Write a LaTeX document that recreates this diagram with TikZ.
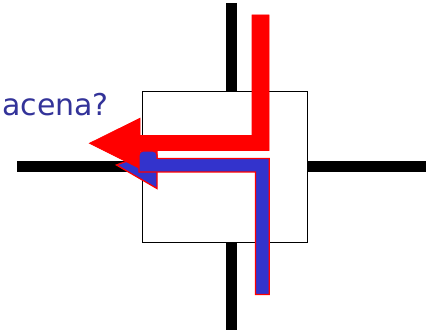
\documentclass[tikz,border=0pt]{standalone}
\usepackage{fontspec}
\setmainfont{DejaVu Sans}
\definecolor{txtblue}{RGB}{51,51,153}
\definecolor{fillblue}{RGB}{51,51,204}
\begin{document}
\begin{tikzpicture}[x=1pt,y=-1pt,
  wire/.style={line width=11pt, black},
  boxstyle/.style={draw=black, line width=1.4pt, fill=white},
  redarrow/.style={fill=red, draw=red, line width=0.8pt, line join=miter},
  bluearrow/.style={fill=fillblue, draw=red, line width=1.3pt, line join=miter},
  label/.style={text=txtblue, font=\fontsize{30}{31}\selectfont, inner sep=0pt}]
\useasboundingbox (0,0) rectangle (426,334);
% wires
\coordinate (wt) at (231,3);
\coordinate (wtb) at (231,91);
\coordinate (wb) at (231,242);
\coordinate (wbb) at (231,330);
\coordinate (wl) at (17,167);
\coordinate (wlb) at (142,167);
\coordinate (wr) at (307,167);
\coordinate (wrb) at (426,167);
\draw[wire] (wt) -- (wtb);
\draw[wire] (wb) -- (wbb);
\draw[wire] (wl) -- (wlb);
\draw[wire] (wr) -- (wrb);
% box
\node[boxstyle, minimum width=165pt, minimum height=151pt, anchor=north west, inner sep=0pt] (box) at (142,91) {};
% blue arrow head (under red)
\fill[bluearrow] (116.5,165) -- (157,150) -- (157,188.5) -- cycle;
% red arrow
\filldraw[redarrow] (252,15) -- (269,15) -- (269,150.5) -- (140,150.5) -- (140,168.5)
  -- (89.5,143.3) -- (140,118.3) -- (140,135.5) -- (252,135.5) -- cycle;
% blue shaft
\filldraw[bluearrow] (139,172) -- (139,156) [rounded corners=4pt] -- (139,151) -- (157,151) [sharp corners] -- (157,158.5)
  -- (269.3,158.5) -- (269.3,294.5) -- (255.5,294.5) -- (255.5,172) -- cycle;
\fill[fillblue] (139.7,159) rectangle (157.5,171.3);
% text
\node[label, anchor=base east] (txt) at (109,116) {acena?};
\end{tikzpicture}
\end{document}
